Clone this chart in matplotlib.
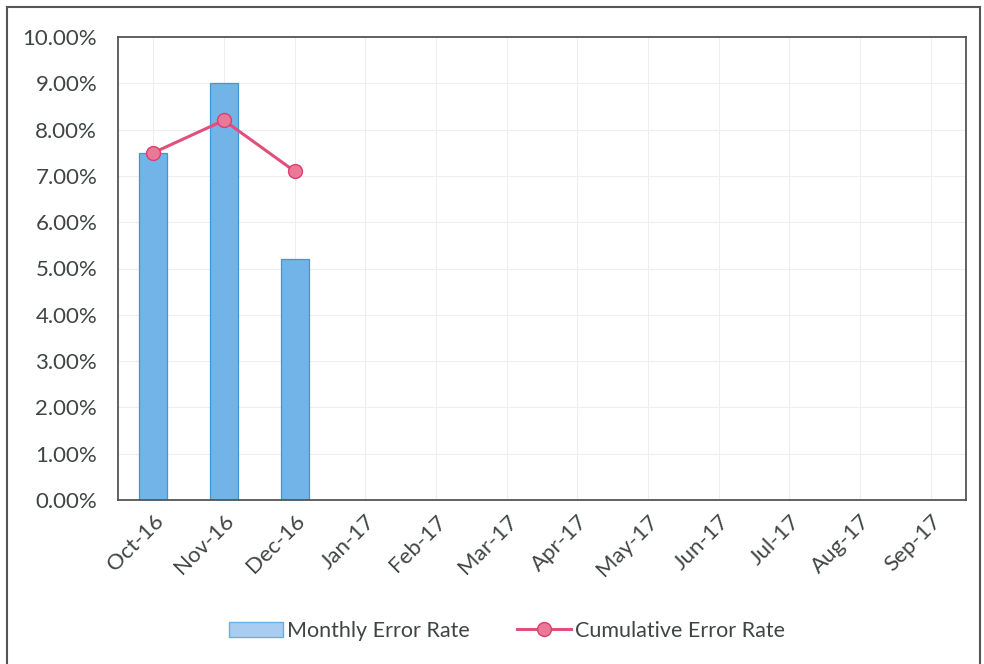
import matplotlib
matplotlib.use("Agg")
import matplotlib.pyplot as plt
from matplotlib.ticker import FuncFormatter
from matplotlib.lines import Line2D
from matplotlib.patches import Patch

plt.rcParams['font.family'] = ['Lato', 'DejaVu Sans']

months = ["Oct-16", "Nov-16", "Dec-16", "Jan-17", "Feb-17", "Mar-17",
          "Apr-17", "May-17", "Jun-17", "Jul-17", "Aug-17", "Sep-17"]
monthly_rate = [7.5, 9.0, 5.2]
cumulative_rate = [7.5, 8.2, 7.1]

txt = "#3f4542"
fig = plt.figure(figsize=(9.84, 6.64), dpi=100)
ax = fig.add_axes([118/984, 1-500/664, (966-118)/984, (500-37)/664])

x_all = list(range(len(months)))
ax.bar(x_all[:len(monthly_rate)], monthly_rate, width=0.4, color="#72b4e8",
       edgecolor="#3d98d8", linewidth=0.9, zorder=2)
ax.plot(x_all[:len(cumulative_rate)], cumulative_rate, color="#e0507a", lw=2.2,
        marker="o", markersize=10, markerfacecolor="#ec7898",
        markeredgecolor="#d84070", zorder=3)

ax.set_xlim(-0.5, len(months) - 0.5)
ax.set_ylim(0, 10)
ax.set_yticks([i for i in range(0, 11)])
ax.yaxis.set_major_formatter(FuncFormatter(lambda v, p: f"{v:.2f}%"))
ax.set_xticks(x_all)
ax.set_xticklabels(months, rotation=45, ha="right", rotation_mode="anchor")
ax.tick_params(axis="both", length=0, labelsize=16, colors=txt)
ax.tick_params(axis="y", pad=15)
ax.tick_params(axis="x", pad=8)
ax.grid(True, color="#eeeeee", lw=0.8, zorder=0)
ax.set_axisbelow(True)
for s in ax.spines.values():
    s.set_color("#555555")
    s.set_linewidth(1.3)

handles = [Patch(facecolor="#a9cdf0", edgecolor="#6aaee6", label="Monthly Error Rate"),
           Line2D([0], [0], color="#e0507a", lw=2.2, marker="o", markersize=10,
                  markerfacecolor="#ec7898", markeredgecolor="#d84070",
                  label="Cumulative Error Rate")]
fig.legend(handles=handles, loc="center", bbox_to_anchor=(507/984, 1-631/664), ncol=2,
           frameon=False, fontsize=15.5, labelcolor=txt,
           handlelength=2.5, columnspacing=2.2, handletextpad=0.2)

# outer border
fig.add_artist(Line2D([7/984, 7/984], [0, 1-7/664], color="#555555", lw=1.5, transform=fig.transFigure))
fig.add_artist(Line2D([7/984, 980/984], [1-7/664, 1-7/664], color="#555555", lw=1.5, transform=fig.transFigure))
fig.add_artist(Line2D([980/984, 980/984], [0, 1-7/664], color="#555555", lw=1.5, transform=fig.transFigure))

fig.savefig("out.png", dpi=100)
